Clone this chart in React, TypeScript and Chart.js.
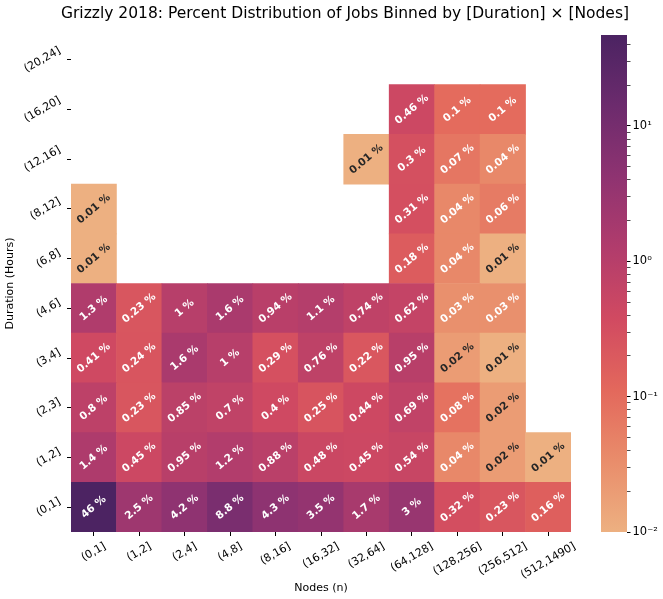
import React, { useEffect, useRef } from "react";
import { Chart, registerables } from "chart.js";

Chart.register(...registerables);

// ---------- data ----------
const TITLE = "Grizzly 2018: Percent Distribution of Jobs Binned by [Duration] \u00d7 [Nodes]";
const X_TITLE = "Nodes (n)";
const Y_TITLE = "Duration (Hours)";

const nodeLabels = ["(0,1]", "(1,2]", "(2,4]", "(4,8]", "(8,16]", "(16,32]", "(32,64]", "(64,128]", "(128,256]", "(256,512]", "(512,1490]"];
const durationLabels = ["(0,1]", "(1,2]", "(2,3]", "(3,4]", "(4,6]", "(6,8]", "(8,12]", "(12,16]", "(16,20]", "(20,24]"];

const dur0_1 = [46, 2.5, 4.2, 8.8, 4.3, 3.5, 1.7, 3, 0.32, 0.23, 0.16];
const dur1_2 = [1.4, 0.45, 0.95, 1.2, 0.88, 0.48, 0.45, 0.54, 0.04, 0.02, 0.01];
const dur2_3 = [0.8, 0.23, 0.85, 0.7, 0.4, 0.25, 0.44, 0.69, 0.08, 0.02, null];
const dur3_4 = [0.41, 0.24, 1.6, 1, 0.29, 0.76, 0.22, 0.95, 0.02, 0.01, null];
const dur4_6 = [1.3, 0.23, 1, 1.6, 0.94, 1.1, 0.74, 0.62, 0.03, 0.03, null];
const dur6_8 = [0.01, null, null, null, null, null, null, 0.18, 0.04, 0.01, null];
const dur8_12 = [0.01, null, null, null, null, null, null, 0.31, 0.04, 0.06, null];
const dur12_16 = [null, null, null, null, null, null, 0.01, 0.3, 0.07, 0.04, null];
const dur16_20 = [null, null, null, null, null, null, null, 0.46, 0.1, 0.1, null];
const dur20_24 = [null, null, null, null, null, null, null, null, null, null, null];

const rows: (number | null)[][] = [dur0_1, dur1_2, dur2_3, dur3_4, dur4_6, dur6_8, dur8_12, dur12_16, dur16_20, dur20_24];

const CBAR_MIN = 0.01;
const CBAR_MAX = 47;
const cbarMajorTicks = [0.01, 0.1, 1, 10];
const cbarMajorLabels = ["10\u207b\u00b2", "10\u207b\u00b9", "10\u2070", "10\u00b9"];
const cbarMinorMultipliers = [2, 3, 4, 5, 6, 7, 8, 9];

// seaborn "flare" colormap samples
const FLARE = ["#edb081", "#e98d6b", "#e3685c", "#d14a61", "#b13c6c", "#8f3371", "#6c2b6d", "#4b2362"];

const FONT = "'DejaVu Sans', sans-serif";

function hexToRgb(h: string) {
  return [parseInt(h.slice(1, 3), 16), parseInt(h.slice(3, 5), 16), parseInt(h.slice(5, 7), 16)];
}
const FLARE_RGB = FLARE.map(hexToRgb);

function flareRgb(t: number) {
  t = Math.max(0, Math.min(1, t));
  const p = t * (FLARE_RGB.length - 1);
  const i = Math.min(FLARE_RGB.length - 2, Math.floor(p));
  const f = p - i;
  const a = FLARE_RGB[i], b = FLARE_RGB[i + 1];
  return [0, 1, 2].map((k) => a[k] + (b[k] - a[k]) * f);
}
function normLog(v: number) {
  return (Math.log10(v) - Math.log10(CBAR_MIN)) / (Math.log10(CBAR_MAX) - Math.log10(CBAR_MIN));
}
function colorFor(v: number) {
  const c = flareRgb(normLog(v));
  return `rgb(${Math.round(c[0])},${Math.round(c[1])},${Math.round(c[2])})`;
}
function textColorFor(v: number) {
  const c = flareRgb(normLog(v)).map((x) => {
    const s = x / 255;
    return s <= 0.03928 ? s / 12.92 : Math.pow((s + 0.055) / 1.055, 2.4);
  });
  const lum = 0.2126 * c[0] + 0.7152 * c[1] + 0.0722 * c[2];
  return lum > 0.408 ? "#262626" : "#ffffff";
}

const TICK_SIZE = 11;
const TICK_ROT = (30 * Math.PI) / 180;
const CELL_ROT = (40 * Math.PI) / 180;

const labelsPlugin = {
  id: "mplLabels",
  afterDatasetsDraw(chart: any) {
    const ctx = chart.ctx;
    ctx.save();
    ctx.font = `bold 10.5px ${FONT}`;
    ctx.textAlign = "center";
    ctx.textBaseline = "middle";
    rows.forEach((row, r) => {
      const meta = chart.getDatasetMeta(r);
      row.forEach((v, c) => {
        if (v == null) return;
        const el = meta.data[c];
        if (!el) return;
        const { x, y, base } = el.getProps(["x", "y", "base"], true);
        const cy = (y + base) / 2;
        ctx.save();
        ctx.translate(x, cy);
        ctx.rotate(-CELL_ROT);
        ctx.fillStyle = textColorFor(v);
        ctx.fillText(`${v} %`, 0, 0);
        ctx.restore();
      });
    });
    ctx.restore();
  },
  afterDraw(chart: any) {
    const { ctx, chartArea } = chart;
    const xs = chart.scales.x;
    const ys = chart.scales.y;
    ctx.save();
    ctx.fillStyle = "#000";
    ctx.textAlign = "center";
    ctx.textBaseline = "middle";
    ctx.font = `${TICK_SIZE}px ${FONT}`;
    const h = TICK_SIZE * 1.16;
    nodeLabels.forEach((lab, i) => {
      const x = xs.getPixelForTick(i);
      const w = ctx.measureText(lab).width;
      const bh = w * Math.sin(TICK_ROT) + h * Math.cos(TICK_ROT);
      const top = chartArea.bottom + 4 + 4;
      ctx.save();
      ctx.translate(x, top + bh / 2);
      ctx.rotate(-TICK_ROT);
      ctx.fillText(lab, 0, 0);
      ctx.restore();
    });
    durationLabels.forEach((lab, i) => {
      const y = ys.getPixelForValue(i + 0.5);
      const w = ctx.measureText(lab).width;
      const bw = w * Math.cos(TICK_ROT) + h * Math.sin(TICK_ROT);
      const right = chartArea.left - 4 - 4;
      ctx.save();
      ctx.translate(right - bw / 2, y);
      ctx.rotate(-TICK_ROT);
      ctx.fillText(lab, 0, 0);
      ctx.restore();
    });
    ctx.font = `15.5px ${FONT}`;
    ctx.fillText(TITLE, 345, 14);
    ctx.restore();
  },
};

export default function App() {
  const mainRef = useRef<HTMLCanvasElement>(null);
  const cbarRef = useRef<HTMLCanvasElement>(null);

  useEffect(() => {
    if (!mainRef.current || !cbarRef.current) return;

    const main = new Chart(mainRef.current, {
      type: "bar",
      data: {
        labels: nodeLabels,
        datasets: rows.map((row, r) => ({
          label: durationLabels[r],
          data: row.map((v) => (v == null ? null : [r, r + 1])) as any,
          backgroundColor: row.map((v) => (v == null ? "rgba(0,0,0,0)" : colorFor(v))),
          borderWidth: 0,
          grouped: false,
          barPercentage: 1,
          categoryPercentage: 1,
        })),
      },
      options: {
        responsive: false,
        animation: false,
        events: [],
        layout: { padding: { left: 0, right: 92, top: 35, bottom: 0 } },
        plugins: {
          legend: { display: false },
          tooltip: { enabled: false },
          title: { display: false },
        },
        scales: {
          x: {
            type: "category",
            offset: true,
            grid: { offset: false, drawOnChartArea: false, drawTicks: true, tickLength: 4, color: "#000", lineWidth: 1 },
            border: { display: false },
            ticks: { display: false },
            title: { display: true, text: X_TITLE, color: "#000", font: { family: FONT, size: 11 }, padding: { top: 4, bottom: 4 } },
            afterFit: (s: any) => {
              s.height = 67;
            },
          },
          y: {
            type: "linear",
            min: 0,
            max: durationLabels.length,
            afterBuildTicks: (s: any) => {
              s.ticks = durationLabels.map((_, i) => ({ value: i + 0.5 }));
            },
            grid: { drawOnChartArea: false, drawTicks: true, tickLength: 4, color: "#000", lineWidth: 1 },
            border: { display: false },
            ticks: { display: false },
            title: { display: true, text: Y_TITLE, color: "#000", font: { family: FONT, size: 11 }, padding: { top: 4, bottom: 4 } },
            afterFit: (s: any) => {
              s.width = 71;
            },
          },
        },
      },
      plugins: [labelsPlugin],
    });

    const cbarTickValues: number[] = [];
    cbarMajorTicks.forEach((m) => {
      cbarTickValues.push(m);
      cbarMinorMultipliers.forEach((k) => {
        const v = +(m * k).toPrecision(6);
        if (v < CBAR_MAX) cbarTickValues.push(v);
      });
    });

    const cbar = new Chart(cbarRef.current, {
      type: "bar",
      data: {
        labels: [""],
        datasets: [
          {
            data: [[CBAR_MIN, CBAR_MAX]] as any,
            backgroundColor: (c: any) => {
              const { chart } = c;
              const area = chart.chartArea;
              if (!area) return FLARE[0];
              const g = chart.ctx.createLinearGradient(0, area.bottom, 0, area.top);
              FLARE.forEach((col, i) => g.addColorStop(i / (FLARE.length - 1), col));
              return g;
            },
            borderWidth: 0,
            barPercentage: 1,
            categoryPercentage: 1,
          },
        ],
      },
      options: {
        responsive: false,
        animation: false,
        events: [],
        layout: { padding: { left: 601, right: 0, top: 35, bottom: 67 } },
        plugins: { legend: { display: false }, tooltip: { enabled: false }, title: { display: false } },
        scales: {
          x: { display: false },
          y: {
            type: "logarithmic",
            position: "right",
            min: CBAR_MIN,
            max: CBAR_MAX,
            afterBuildTicks: (s: any) => {
              s.ticks = cbarTickValues.map((v) => ({ value: v, major: cbarMajorTicks.includes(v) }));
            },
            afterFit: (s: any) => {
              s.width = 36;
            },
            ticks: {
              autoSkip: false,
              padding: 2,
              color: "#000",
              font: { family: FONT, size: 11.5 },
              callback: (v: any) => {
                const idx = cbarMajorTicks.findIndex((m) => Math.abs(m - Number(v)) < 1e-9);
                return idx >= 0 ? cbarMajorLabels[idx] : "";
              },
            },
            grid: {
              drawOnChartArea: false,
              drawTicks: true,
              tickLength: 3.5,
              color: "#000",
              lineWidth: (c: any) => (c.tick && c.tick.major ? 1 : 0.7),
            },
            border: { display: false },
          },
        },
      },
    });

    return () => {
      main.destroy();
      cbar.destroy();
    };
  }, []);

  return (
    <div style={{ position: "fixed", left: 0, top: 0, width: 663, height: 599, overflow: "hidden", background: "#fff" }}>
      <canvas ref={mainRef} width={663} height={599} style={{ position: "absolute", left: 0, top: 0 }} />
      <canvas ref={cbarRef} width={663} height={599} style={{ position: "absolute", left: 0, top: 0, pointerEvents: "none" }} />
    </div>
  );
}
